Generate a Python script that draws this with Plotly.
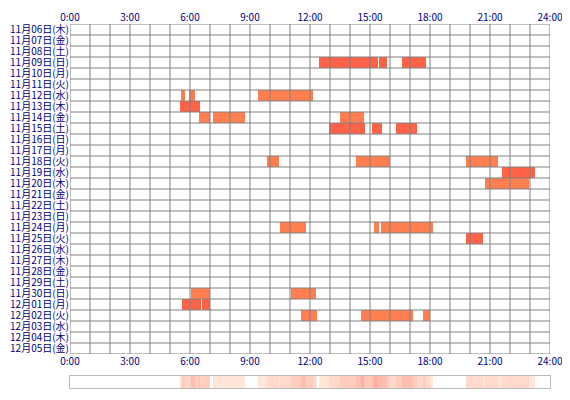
import numpy as np
import plotly.graph_objects as go

# row labels (top to bottom)
days = [
    "11月06日(木)", "11月07日(金)", "11月08日(土)", "11月09日(日)", "11月10日(月)",
    "11月11日(火)", "11月12日(水)", "11月13日(木)", "11月14日(金)", "11月15日(土)",
    "11月16日(日)", "11月17日(月)", "11月18日(火)", "11月19日(水)", "11月20日(木)",
    "11月21日(金)", "11月22日(土)", "11月23日(日)", "11月24日(月)", "11月25日(火)",
    "11月26日(水)", "11月27日(木)", "11月28日(金)", "11月29日(土)", "11月30日(日)",
    "12月01日(月)", "12月02日(火)", "12月03日(水)", "12月04日(木)", "12月05日(金)",
]

hour_ticks = [0, 3, 6, 9, 12, 15, 18, 21, 24]
hour_labels = ["0:00", "3:00", "6:00", "9:00", "12:00", "15:00", "18:00", "21:00", "24:00"]

# activity blocks, hours of day
bar_day = [
    "11月09日(日)", "11月09日(日)", "11月09日(日)",
    "11月12日(水)", "11月12日(水)", "11月12日(水)",
    "11月13日(木)",
    "11月14日(金)", "11月14日(金)", "11月14日(金)",
    "11月15日(土)", "11月15日(土)", "11月15日(土)",
    "11月18日(火)", "11月18日(火)", "11月18日(火)",
    "11月19日(水)",
    "11月20日(木)",
    "11月24日(月)", "11月24日(月)", "11月24日(月)",
    "11月25日(火)",
    "11月30日(日)", "11月30日(日)",
    "12月01日(月)", "12月01日(月)",
    "12月02日(火)", "12月02日(火)", "12月02日(火)",
]
bar_start = [
    12.45, 15.45, 16.6,
    5.55, 5.97, 9.4,
    5.5,
    6.45, 7.15, 13.5,
    12.95, 15.1, 16.3,
    9.85, 14.3, 19.8,
    21.6,
    20.75,
    10.5, 15.2, 15.55,
    19.8,
    6.05, 11.05,
    5.6, 6.6,
    11.55, 14.55, 17.65,
]
bar_end = [
    15.38, 15.83, 17.8,
    5.75, 6.25, 12.15,
    6.5,
    7.0, 8.75, 14.7,
    14.75, 15.6, 17.35,
    10.45, 16.0, 21.4,
    23.25,
    22.95,
    11.8, 15.45, 18.15,
    20.65,
    7.0, 12.3,
    6.55, 7.0,
    12.35, 17.15, 18.0,
]
bar_kind = [
    "a", "a", "a",
    "b", "b", "b",
    "a",
    "b", "b", "b",
    "a", "a", "a",
    "b", "b", "b",
    "a",
    "b",
    "b", "b", "b",
    "a",
    "b", "b",
    "a", "a",
    "b", "b", "b",
]

kind_colors = {"a": "#FF6347", "b": "#FF7F50"}
NAVY = "#000080"
GRID = "#808080"
FONT = "Noto Sans CJK JP"

fig = go.Figure()

for kind, color in kind_colors.items():
    idx = [i for i, k in enumerate(bar_kind) if k == kind]
    fig.add_trace(go.Bar(
        orientation="h",
        y=[bar_day[i] for i in idx],
        base=[bar_start[i] for i in idx],
        x=[bar_end[i] - bar_start[i] for i in idx],
        width=1,
        marker=dict(color=color, line=dict(width=0)),
        showlegend=False,
        xaxis="x", yaxis="y",
    ))

# invisible point so the bottom time axis gets drawn
fig.add_trace(go.Scatter(x=[0], y=[days[0]], mode="markers", marker=dict(opacity=0),
                         showlegend=False, hoverinfo="skip", xaxis="x3", yaxis="y"))

# density strip: how many days are active in each minute
minutes = np.arange(1440)
counts = np.zeros(1440)
for s, e in zip(bar_start, bar_end):
    counts[(minutes >= s * 60) & (minutes < e * 60)] += 1
z = [[c if c > 0 else None for c in counts]]
fig.add_trace(go.Heatmap(
    x=(minutes + 0.5) / 60, y=[0], z=z,
    zmin=1, zmax=5,
    colorscale=[[0, "#FFE6D8"], [1, "#FFB2A2"]],
    showscale=False, hoverinfo="skip",
    xaxis="x2", yaxis="y2",
))

# grid drawn above the bars
shapes = []
for h in range(25):
    shapes.append(dict(type="line", xref="x", yref="y", x0=h, x1=h, y0=-0.5, y1=len(days) - 0.5,
                       line=dict(color=GRID, width=1), layer="above"))
for k in range(len(days) + 1):
    shapes.append(dict(type="line", xref="x", yref="y", x0=0, x1=24, y0=k - 0.5, y1=k - 0.5,
                       line=dict(color=GRID, width=1), layer="above"))

tick_font = dict(family=FONT, size=10, color=NAVY)
main_bottom = 34 / 364

# the page body adds an 8px offset, so margins are shifted by that much
fig.update_layout(
    width=570, height=400,
    margin=dict(l=62, r=28, t=16, b=20),
    paper_bgcolor="white", plot_bgcolor="white",
    barmode="overlay", bargap=0,
    font=dict(family=FONT, size=10, color=NAVY),
    shapes=shapes,
    xaxis=dict(domain=[0, 1], anchor="y", side="top", range=[0, 24],
               tickvals=hour_ticks, ticktext=hour_labels, tickfont=tick_font,
               showgrid=False, zeroline=False, ticks="", automargin=False),
    xaxis3=dict(overlaying="x", anchor="y", side="bottom", range=[0, 24],
                tickvals=hour_ticks, ticktext=hour_labels, tickfont=tick_font,
                showgrid=False, zeroline=False, ticks="", automargin=False),
    yaxis=dict(domain=[main_bottom, 1], anchor="x", type="category",
               categoryorder="array", categoryarray=days,
               tickmode="array", tickvals=days, ticktext=days,
               range=[len(days) - 0.5, -0.5], tickfont=tick_font,
               showgrid=False, zeroline=False, ticks="", automargin=False),
    xaxis2=dict(domain=[0, 1], anchor="y2", range=[0, 24], showticklabels=False,
                showgrid=False, zeroline=False, showline=True, mirror=True,
                linecolor="#BBBBBB", linewidth=1),
    yaxis2=dict(domain=[0, 12 / 364], anchor="x2", range=[-0.5, 0.5], showticklabels=False,
                showgrid=False, zeroline=False, showline=True, mirror=True,
                linecolor="#BBBBBB", linewidth=1),
)

fig.write_html("out.html")
